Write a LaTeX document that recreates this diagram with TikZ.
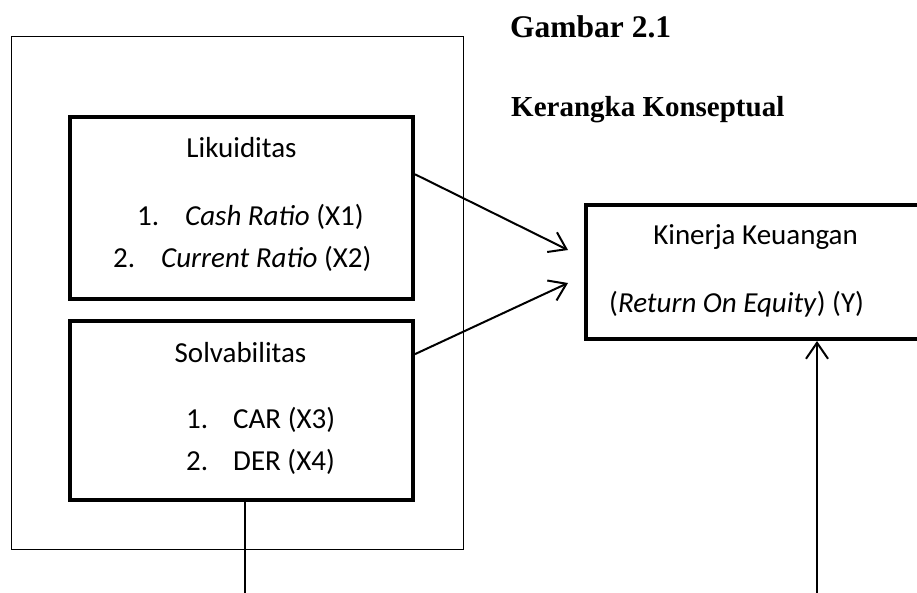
\documentclass[tikz,border=0pt]{standalone}
\usepackage{fontspec}
\setmainfont{Carlito}
\newfontfamily\titlefont{Liberation Serif}
\usetikzlibrary{arrows.meta}
\tikzstyle{group}=[rectangle, draw=black, line width=1pt, inner sep=0pt]
\tikzstyle{var}=[rectangle, draw=black, line width=4pt, inner sep=0pt]
\tikzstyle{txt}=[anchor=base west, inner sep=0pt, font=\fontsize{29}{35}\selectfont]
\tikzstyle{head}=[anchor=base, inner sep=0pt, font=\fontsize{29}{35}\selectfont]
\tikzstyle{ttl}=[anchor=base west, inner sep=0pt, font=\titlefont\bfseries\fontsize{31.5}{37}\selectfont]
\tikzstyle{subttl}=[anchor=base west, inner sep=0pt, font=\titlefont\bfseries\fontsize{29}{35}\selectfont]
\tikzstyle{link}=[line width=2pt, -{Straight Barb[length=16pt,width=22pt,line width=2pt]}]

\begin{document}
\begin{tikzpicture}[x=1pt, y=-1pt]
        \useasboundingbox (0,0) rectangle (917,592);

        % boxes
        \node (frame) [group, minimum width=452pt, minimum height=513pt] at (237,292.5) {};
        \node (liku) [var, minimum width=343pt, minimum height=182pt] at (241.5,208) {};
        \node (solv) [var, minimum width=343pt, minimum height=179pt] at (241.5,410.5) {};
        \node (kin) [var, minimum width=344pt, minimum height=134pt] at (758,272) {};

        % titles
        \node (gambar) [ttl] at (510,37) {Gambar 2.1};
        \node (kerangka) [subttl] at (511,116.5) {Kerangka Konseptual};

        % texts
        \node (likuhead) [head] at (241.5,157) {Likuiditas};
        \node (n1) [txt] at (137,225) {1.};
        \node (x1) [txt] at (185,225) {\textit{Cash Ratio} (X1)};
        \node (n2) [txt] at (113,267) {2.};
        \node (x2) [txt] at (161,267) {\textit{Current Ratio} (X2)};

        \node (solvhead) [head] at (240.5,362) {Solvabilitas};
        \node (n3) [txt] at (186,428) {1.};
        \node (x3) [txt] at (233,428) {CAR (X3)};
        \node (n4) [txt] at (186,470) {2.};
        \node (x4) [txt] at (233,470) {DER (X4)};

        \node (kinhead) [head] at (755.5,244) {Kinerja Keuangan};
        \node (y) [txt] at (609,312) {(\textit{Return On Equity}) (Y)};

        % connectors
        \coordinate (in1) at (568,250);
        \coordinate (in2) at (568,283);
        \coordinate (foot1) at (245,595);
        \coordinate (foot2) at (817,595);

        \draw [link] (liku.11.5) -- (in1);
        \draw [link] (solv.18.8) -- (in2);
        \draw [line width=1.5pt] (solv.south -| foot1) -- (foot1);
        \draw [link, line width=1.5pt] (foot2) -- (kin.south -| foot2);
    \end{tikzpicture}
\end{document}
